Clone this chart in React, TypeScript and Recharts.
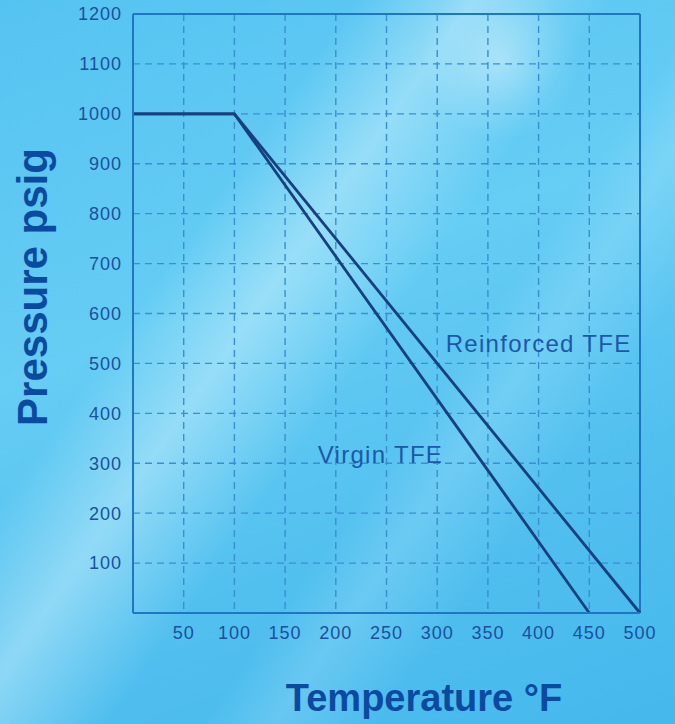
import React from "react"
import {
  LineChart,
  Line,
  XAxis,
  YAxis,
  CartesianGrid,
  ReferenceLine,
  ReferenceDot,
} from "recharts"

const virginTemps = [0, 100, 450]
const virginPressure = [1000, 1000, 0]
const reinforcedTemps = [0, 100, 500]
const reinforcedPressure = [1000, 1000, 0]

const xTicks = [50, 100, 150, 200, 250, 300, 350, 400, 450, 500]
const yTicks = [100, 200, 300, 400, 500, 600, 700, 800, 900, 1000, 1100, 1200]

const virginData = virginTemps.map((t, i) => ({ temp: t, pressure: virginPressure[i] }))
const reinforcedData = reinforcedTemps.map((t, i) => ({ temp: t, pressure: reinforcedPressure[i] }))

const TEXT = "#1a509e"
const TITLE = "#0c4aa0"
const LINE = "#183f7e"
const AXIS = "#2275c2"
const GRID = "#3a8ed2"
const FONT = "'Liberation Sans', Arial, sans-serif"

const tickStyle = { fill: TEXT, fontSize: 18, fontFamily: FONT, letterSpacing: 1 }
const noteStyle = { fill: "#1c58a8", fontSize: 24, fontFamily: FONT, letterSpacing: 1.3 }

export default function App() {
  return (
    <div
      style={{
        position: "absolute",
        left: 0,
        top: 0,
        width: 675,
        height: 724,
        overflow: "hidden",
        background:
          "radial-gradient(circle at 500px 60px, rgba(255,255,255,0.35) 0, rgba(255,255,255,0.12) 45px, rgba(255,255,255,0) 80px)," +
          "linear-gradient(125deg, rgba(255,255,255,0) 30%, rgba(230,250,255,0.4) 40%, rgba(255,255,255,0) 52%, rgba(255,255,255,0) 60%, rgba(200,240,255,0.22) 66%, rgba(255,255,255,0) 75%)," +
          "linear-gradient(160deg, #55c3f1 0%, #66cdf4 40%, #52c0ef 70%, #45b8ec 100%)",
      }}
    >
      <LineChart
        width={675}
        height={724}
        margin={{ top: 14, right: 35, left: 0, bottom: 0 }}
      >
        <CartesianGrid
          stroke={GRID}
          strokeDasharray="7 5"
          strokeWidth={1.4}
          vertical
          horizontal
        />
        <XAxis
          dataKey="temp"
          type="number"
          domain={[0, 500]}
          ticks={xTicks}
          allowDuplicatedCategory={false}
          height={111}
          axisLine={{ stroke: AXIS, strokeWidth: 2 }}
          tickLine={false}
          tick={tickStyle}
          tickMargin={7}
          interval={0}
        />
        <YAxis
          dataKey="pressure"
          type="number"
          domain={[0, 1200]}
          ticks={yTicks}
          width={133}
          axisLine={{ stroke: AXIS, strokeWidth: 2 }}
          tickLine={false}
          tick={tickStyle}
          tickMargin={5}
          interval={0}
        />
        <ReferenceLine y={1200} stroke={AXIS} strokeWidth={2} />
        <ReferenceLine x={500} stroke={AXIS} strokeWidth={2} />
        <Line
          data={virginData}
          dataKey="pressure"
          stroke={LINE}
          strokeWidth={2.8}
          dot={false}
          type="linear"
          isAnimationActive={false}
        />
        <Line
          data={reinforcedData}
          dataKey="pressure"
          stroke={LINE}
          strokeWidth={2.8}
          dot={false}
          type="linear"
          isAnimationActive={false}
        />
        <ReferenceDot
          x={400}
          y={540}
          r={0}
          fill="none"
          stroke="none"
          label={{ value: "Reinforced TFE", position: "center", ...noteStyle }}
        />
        <ReferenceDot
          x={244}
          y={317}
          r={0}
          fill="none"
          stroke="none"
          label={{ value: "Virgin TFE", position: "center", ...noteStyle }}
        />
      </LineChart>
      <div
        style={{
          position: "absolute",
          left: 33,
          top: 287,
          transform: "translate(-50%, -50%) rotate(-90deg)",
          whiteSpace: "nowrap",
          fontFamily: FONT,
          fontWeight: "bold",
          fontSize: 42,
          color: TITLE,
        }}
      >
        Pressure psig
      </div>
      <div
        style={{
          position: "absolute",
          left: 424,
          top: 698,
          transform: "translate(-50%, -50%)",
          whiteSpace: "nowrap",
          fontFamily: FONT,
          fontWeight: "bold",
          fontSize: 38,
          color: TITLE,
        }}
      >
        Temperature °F
      </div>
    </div>
  )
}
